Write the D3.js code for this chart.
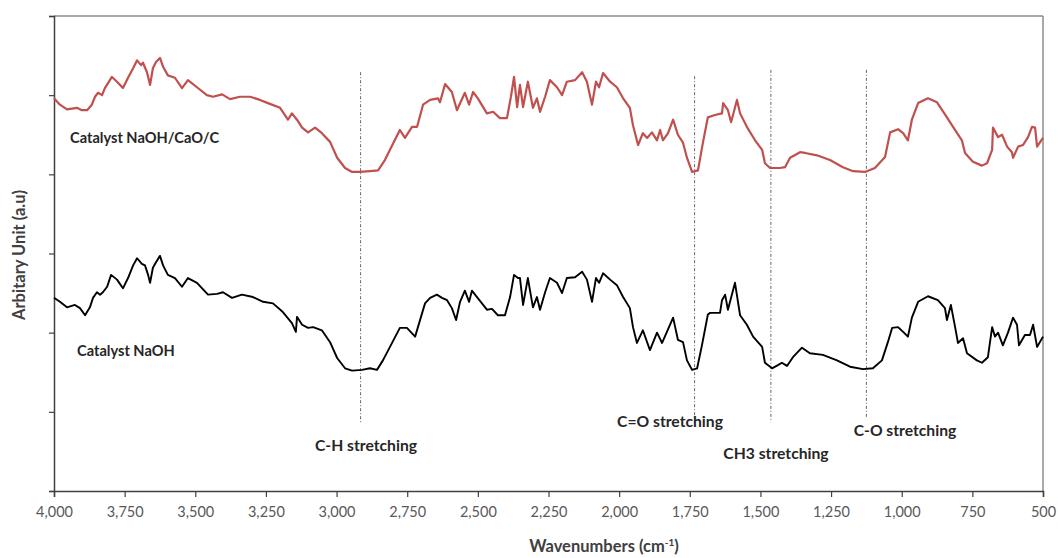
<!DOCTYPE html>
<html>
<head>
<meta charset="utf-8">
<script src="https://cdn.jsdelivr.net/npm/d3@7"></script>
<style>
  html, body { margin: 0; padding: 0; background: #fff; overflow: hidden; }
  svg { display: block; font-family: Lato, "Open Sans", sans-serif; }
</style>
</head>
<body>
<div id="chart"></div>
<script>
// --- DATA (wavenumber in cm-1, intensity in arbitrary units) ---
const redWavenumbers = [4000,3979,3954,3919,3901,3883,3866,3855,3844,3830,3820,3795,3777,3756,3738,3720,3706,3692,3685,3671,3660,3650,3639,3625,3614,3597,3572,3547,3526,3494,3459,3437,3405,3377,3342,3306,3271,3236,3200,3172,3158,3140,3122,3101,3076,3052,3023,2998,2970,2945,2917,2882,2853,2829,2811,
  2776,2758,2733,2715,2694,2669,2641,2634,2616,2592,2574,2546,2531,2517,2500,2468,2446,2422,2397,2383,2372,2361,2351,2340,2323,2305,2291,2280,2262,2245,2220,2202,2185,2156,2131,2114,2096,2082,2071,2057,2032,2008,1986,1962,1951,1933,1916,1901,1884,1866,1855,1845,1827,1809,1792,1774,1760,1742,1721,1703,1686,
  1661,1636,1632,1615,1604,1597,1583,1572,1548,1519,1494,1484,1466,1431,1413,1395,1360,1342,1300,1254,1208,1172,1130,1095,1059,1041,1013,995,978,964,942,907,875,840,804,787,776,748,716,698,680,677,659,645,627,610,606,588,571,553,539,528,521,500];
const redIntensity = [4.96,4.88,4.82,4.84,4.81,4.81,4.88,4.98,5.03,5.00,5.09,5.23,5.17,5.09,5.22,5.34,5.44,5.38,5.41,5.29,5.13,5.34,5.42,5.47,5.36,5.25,5.22,5.09,5.19,5.10,5.00,4.98,5.01,4.95,4.98,4.98,4.94,4.89,4.84,4.69,4.77,4.69,4.59,4.53,4.59,4.52,4.41,4.21,4.08,4.03,4.03,4.04,4.05,4.18,4.31,
  4.56,4.46,4.60,4.60,4.88,4.94,4.96,4.91,5.14,5.04,4.81,5.03,4.88,5.04,4.96,4.77,4.79,4.71,4.71,4.98,5.23,4.85,5.13,4.85,5.17,4.84,4.96,4.79,4.98,5.19,5.10,5.00,5.17,5.19,5.29,5.17,4.88,5.17,5.10,5.28,5.17,5.10,4.96,4.84,4.62,4.37,4.52,4.46,4.53,4.43,4.56,4.43,4.52,4.69,4.50,4.40,4.21,4.03,4.05,4.41,4.72,
  4.75,4.77,4.90,4.81,4.66,4.75,4.94,4.77,4.60,4.43,4.31,4.14,4.08,4.08,4.09,4.21,4.28,4.27,4.24,4.18,4.09,4.04,4.03,4.08,4.22,4.53,4.57,4.52,4.43,4.69,4.90,4.96,4.91,4.72,4.52,4.43,4.27,4.16,4.11,4.14,4.31,4.59,4.47,4.50,4.35,4.28,4.21,4.35,4.37,4.47,4.60,4.59,4.35,4.46];

const blackWavenumbers = [4000,3979,3954,3926,3908,3890,3873,3862,3848,3837,3827,3812,3798,3777,3756,3738,3720,3706,3689,3678,3667,3660,3650,3639,3625,3614,3597,3572,3547,3526,3494,3455,3423,3402,3370,3335,3296,3260,3225,3190,3158,3144,3140,3122,3101,3083,3052,3023,2998,2970,2945,2910,2882,2857,2836,2811,
  2776,2751,2722,2712,2687,2669,2645,2627,2609,2592,2577,2563,2546,2531,2521,2503,2468,2450,2429,2404,2386,2372,2358,2351,2340,2323,2305,2291,2280,2262,2245,2220,2202,2185,2156,2131,2114,2096,2082,2071,2057,2032,2008,1986,1962,1951,1937,1916,1891,1866,1848,1831,1809,1792,1774,1760,1742,1724,1707,1686,
  1678,1643,1636,1625,1615,1590,1572,1548,1526,1494,1484,1459,1438,1424,1406,1385,1353,1325,1279,1229,1183,1137,1102,1070,1049,1034,1013,995,978,964,942,907,872,847,840,826,811,801,783,769,734,716,695,680,670,659,642,624,606,592,585,564,546,535,521,500];
const blackIntensity = [2.44,2.39,2.32,2.35,2.31,2.22,2.32,2.44,2.51,2.48,2.51,2.58,2.73,2.67,2.56,2.69,2.85,2.94,2.87,2.85,2.73,2.63,2.82,2.89,2.97,2.85,2.73,2.69,2.58,2.69,2.63,2.48,2.49,2.51,2.44,2.48,2.45,2.39,2.37,2.26,2.12,2.01,2.20,2.10,2.06,2.07,2.03,1.88,1.68,1.55,1.52,1.53,1.55,1.53,1.65,1.82,
  2.06,2.06,1.95,2.07,2.37,2.44,2.48,2.44,2.41,2.31,2.16,2.39,2.53,2.39,2.53,2.45,2.29,2.30,2.22,2.22,2.45,2.73,2.69,2.69,2.35,2.69,2.32,2.45,2.29,2.51,2.69,2.63,2.50,2.69,2.70,2.77,2.67,2.39,2.69,2.63,2.75,2.67,2.60,2.45,2.31,2.07,1.87,2.03,1.78,2.00,1.87,2.01,2.19,1.91,1.88,1.65,1.53,1.55,1.84,2.23,
  2.25,2.25,2.41,2.48,2.29,2.63,2.22,2.10,1.95,1.82,1.62,1.55,1.59,1.62,1.58,1.69,1.81,1.74,1.72,1.65,1.57,1.54,1.55,1.65,1.88,2.06,2.07,2.01,1.95,2.19,2.39,2.46,2.41,2.31,2.16,2.35,2.07,1.87,1.93,1.74,1.65,1.62,1.69,2.07,1.95,2.00,1.84,2.00,2.19,2.10,1.84,1.97,1.97,2.10,1.82,1.95];

const seriesNames = ["Catalyst NaOH/CaO/C", "Catalyst NaOH"];

// band markers: wavenumber and vertical extent (a.u.)
const bandNames = ["C-H stretching", "C=O stretching", "CH3 stretching", "C-O stretching"];
const bandWavenumbers = [2915, 1733, 1463, 1125];
const bandTop = [5.29, 5.24, 5.32, 5.32];
const bandBottom = [0.86, 0.81, 0.87, 0.92];

const xTicks = [4000,3750,3500,3250,3000,2750,2500,2250,2000,1750,1500,1250,1000,750,500];
const yTicks = [0,1,2,3,4,5,6];

// --- LAYOUT ---
const width = 1058, height = 558;
const margin = { top: 16, right: 15, bottom: 67, left: 54 };
const innerWidth = width - margin.left - margin.right;
const innerHeight = height - margin.top - margin.bottom;

const svg = d3.select("#chart").append("svg")
    .attr("width", width)
    .attr("height", height);

svg.append("rect").attr("width", width).attr("height", height).attr("fill", "#fff");

const g = svg.append("g").attr("transform", `translate(${margin.left},${margin.top})`);

const x = d3.scaleLinear().domain([4000, 500]).range([0, innerWidth]);
const y = d3.scaleLinear().domain([0, 6]).range([innerHeight, 0]);

// frame (top and right)
g.append("line").attr("x1", 0).attr("x2", innerWidth).attr("y1", 0).attr("y2", 0)
    .attr("stroke", "#8c8c8c").attr("stroke-width", 1.5);
g.append("line").attr("x1", innerWidth).attr("x2", innerWidth).attr("y1", 0).attr("y2", innerHeight)
    .attr("stroke", "#8c8c8c").attr("stroke-width", 1.5);

// axes
const xAxis = g.append("g")
    .attr("transform", `translate(0,${innerHeight})`)
    .call(d3.axisBottom(x).tickValues(xTicks).tickFormat(d3.format(",")).tickSizeOuter(0).tickSize(6).tickPadding(10));
const yAxis = g.append("g")
    .call(d3.axisLeft(y).tickValues(yTicks).tickFormat("").tickSizeOuter(0).tickSize(5));

[xAxis, yAxis].forEach(a => {
    a.select(".domain").attr("stroke", "#404040").attr("stroke-width", 1.5);
    a.selectAll(".tick line").attr("stroke", "#404040").attr("stroke-width", 1.2);
});
xAxis.selectAll(".tick text")
    .attr("fill", "#595959")
    .style("font-size", "14.5px")
    .style("font-family", "Lato, sans-serif");

// band lines
bandWavenumbers.forEach((w, i) => {
    g.append("line")
        .attr("x1", x(w)).attr("x2", x(w))
        .attr("y1", y(bandTop[i])).attr("y2", y(bandBottom[i]))
        .attr("stroke", "#666")
        .attr("stroke-width", 1)
        .attr("stroke-dasharray", "3,2,1,2");
});

// spectra
const line = d3.line().x(d => x(d[0])).y(d => y(d[1]));
const redData = redWavenumbers.map((w, i) => [w, redIntensity[i]]);
const blackData = blackWavenumbers.map((w, i) => [w, blackIntensity[i]]);

g.append("path").datum(redData)
    .attr("d", line)
    .attr("fill", "none")
    .attr("stroke", "#c0504d")
    .attr("stroke-width", 2.2)
    .attr("stroke-linejoin", "round");

g.append("path").datum(blackData)
    .attr("d", line)
    .attr("fill", "none")
    .attr("stroke", "#000")
    .attr("stroke-width", 1.9)
    .attr("stroke-linejoin", "round");

// series labels
svg.append("text").attr("x", 70).attr("y", 143)
    .style("font-size", "14.6px").style("font-weight", "bold").attr("fill", "#262626")
    .text(seriesNames[0]);
svg.append("text").attr("x", 77).attr("y", 356)
    .style("font-size", "14.6px").style("font-weight", "bold").attr("fill", "#262626")
    .text(seriesNames[1]);

// band labels (pixel anchors)
const bandLabelPos = [[366, 451], [670, 427], [776, 459], [905, 436]];
bandNames.forEach((name, i) => {
    svg.append("text")
        .attr("x", bandLabelPos[i][0]).attr("y", bandLabelPos[i][1])
        .attr("text-anchor", "middle")
        .style("font-size", "15.7px").style("font-weight", "bold").attr("fill", "#262626")
        .text(name);
});

// axis titles
const xTitle = svg.append("text")
    .attr("x", 604).attr("y", 552)
    .attr("text-anchor", "middle")
    .style("font-size", "16.5px").style("font-weight", "bold").attr("fill", "#404040");
xTitle.append("tspan").text("Wavenumbers (cm");
xTitle.append("tspan").attr("dy", -6).style("font-size", "10px").text("-1");
xTitle.append("tspan").attr("dy", 6).text(")");

svg.append("text")
    .attr("transform", "translate(25,255) rotate(-90)")
    .attr("text-anchor", "middle")
    .style("font-size", "16.5px").style("font-weight", "bold").attr("fill", "#404040")
    .text("Arbitary Unit (a.u)");
</script>
</body>
</html>
